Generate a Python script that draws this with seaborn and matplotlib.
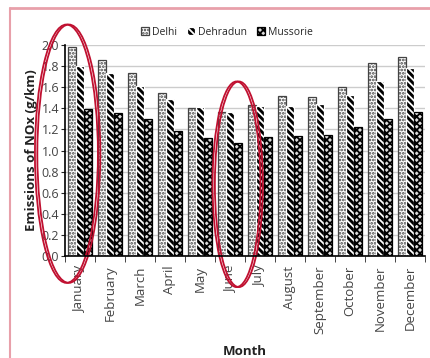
import pandas as pd
import seaborn as sns
import matplotlib
matplotlib.use('Agg')
import matplotlib.pyplot as plt
from matplotlib.patches import Ellipse
from matplotlib.lines import Line2D

months = ['January', 'February', 'March', 'April', 'May', 'June', 'July',
          'August', 'September', 'October', 'November', 'December']
delhi = [1.98, 1.86, 1.74, 1.55, 1.40, 1.37, 1.43, 1.52, 1.51, 1.60, 1.83, 1.89]
dehradun = [1.80, 1.74, 1.61, 1.49, 1.41, 1.37, 1.42, 1.42, 1.44, 1.53, 1.66, 1.78]
mussorie = [1.39, 1.36, 1.30, 1.19, 1.12, 1.07, 1.13, 1.14, 1.15, 1.22, 1.30, 1.37]
cities = ['Delhi', 'Dehradun', 'Mussorie']

df = pd.DataFrame({'Month': months * 3,
                   'NOx': delhi + dehradun + mussorie,
                   'City': [c for c in cities for _ in months]})

sns.set_style('white')
plt.rcParams['font.family'] = ['Open Sans', 'DejaVu Sans']
plt.rcParams['hatch.linewidth'] = 1.3

fig = plt.figure(figsize=(4.3, 3.58), dpi=100)
ax = fig.add_axes([0.151, 0.285, 0.837, 0.589])

sns.barplot(data=df, x='Month', y='NOx', hue='City', order=months,
            hue_order=cities, width=0.8, legend=False, ax=ax)

styles = [('white', '.....', '#444444'), ('black', '\\\\\\\\\\', 'white'), ('#dddddd', 'xxxxx', 'black')]
for cont, (fc, hatch, hc) in zip(ax.containers, styles):
    for bar in cont:
        bar.set_facecolor(fc)
        bar.set_hatch(hatch)
        bar.set_edgecolor(hc)
        bar.set_linewidth(0.9)
        try:
            bar.set_hatchcolor(hc)
            bar.set_edgecolor('black')
        except AttributeError:
            pass

ax.set_ylim(0, 2.0)
ax.set_xlim(-0.5, 11.5)
ax.set_yticks([i / 10 for i in range(0, 21, 2)])
ax.set_yticklabels([f'{i / 10:.1f}' for i in range(0, 21, 2)], fontsize=9, color='#444444')
ax.yaxis.grid(True, color='#cccccc', linewidth=1)
ax.set_axisbelow(True)
ax.set_xticks(range(12))
ax.set_xticklabels(months, rotation=90, fontsize=9.5, color='#444444')
ax.tick_params(axis='x', length=0, pad=7)
ax.tick_params(axis='y', length=3, left=True, pad=1)
ax.set_xticks([i + 0.5 for i in range(-1, 12)], minor=True)
ax.tick_params(axis='x', which='minor', length=4, bottom=True, direction='out')
for s in ['top', 'right']:
    ax.spines[s].set_visible(False)
for s in ['left', 'bottom']:
    ax.spines[s].set_color('black')
    ax.spines[s].set_linewidth(1.2)

ax.set_xlabel('Month', fontsize=9.5, fontweight='bold', color='#222222')
ax.set_ylabel('Emissions of NOx (g/km)', fontsize=9.5, fontweight='bold', labelpad=3, color='#222222')
ax.xaxis.set_label_coords(0.5, -0.42)

ax.legend([c[0] for c in ax.containers], cities, loc='lower center',
          bbox_to_anchor=(0.45, 0.99), ncol=3, frameon=False, fontsize=7.5,
          handlelength=0.8, handleheight=0.8, handletextpad=0.3, columnspacing=0.9)

# hand-drawn red annotation rings
for dx in (0, 0.08):
    ax.add_patch(Ellipse((-0.45 + dx, 0.97), 2.1, 2.45, angle=0, fill=False,
                         edgecolor='#c01030', linewidth=1.3, clip_on=False))
    ax.add_patch(Ellipse((5.22 + dx, 0.68), 1.6, 1.95, angle=0, fill=False,
                         edgecolor='#c01030', linewidth=1.3, clip_on=False))

# pink frame of the slide
fig.add_artist(Line2D([0.023, 1.0], [0.978, 0.978], color='#e8a0aa', linewidth=2))
fig.add_artist(Line2D([0.023, 0.023], [0.0, 0.978], color='#e8a0aa', linewidth=1.5))

fig.savefig('out.png', dpi=100)
